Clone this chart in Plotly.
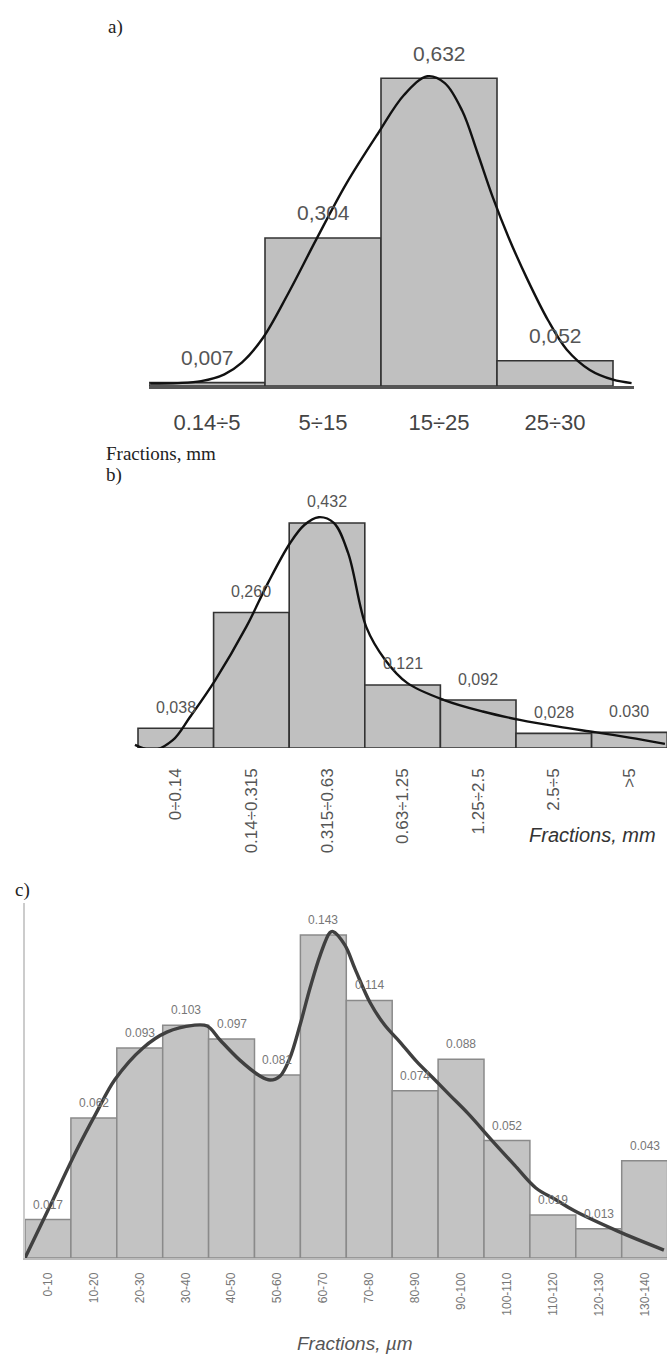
import plotly.graph_objects as go

W, H = 667, 1361

# ---------------- data ----------------
cats_a = ["0.14÷5", "5÷15", "15÷25", "25÷30"]
vals_a = [0.007, 0.304, 0.632, 0.052]
labels_a = ["0,007", "0,304", "0,632", "0,052"]
curve_a_x = [-0.49, -0.25, -0.05, 0.15, 0.30, 0.48, 0.70, 0.94, 1.20, 1.47, 1.70, 1.90,
             2.05, 2.20, 2.33, 2.46, 2.60, 2.76, 2.94, 3.10, 3.30, 3.50, 3.66]
curve_a_y = [0.005, 0.006, 0.010, 0.024, 0.048, 0.098, 0.190, 0.300, 0.415, 0.517, 0.598, 0.636,
             0.622, 0.565, 0.480, 0.390, 0.305, 0.220, 0.135, 0.075, 0.033, 0.013, 0.006]

cats_b = ["0÷0.14", "0.14÷0.315", "0.315÷0.63", "0.63÷1.25", "1.25÷2.5", "2.5÷5", ">5"]
vals_b = [0.038, 0.260, 0.432, 0.121, 0.092, 0.028, 0.030]
labels_b = ["0,038", "0,260", "0,432", "0,121", "0,092", "0,028", "0.030"]
curve_b_x = [-0.54, -0.30, -0.04, 0.19, 0.52, 0.93, 1.22, 1.51, 1.70, 1.89, 2.09,
             2.28, 2.52, 2.77, 3.06, 3.55, 4.06, 4.55, 5.06, 5.56, 6.00, 6.47]
curve_b_y = [0.006, -0.004, 0.015, 0.06, 0.13, 0.232, 0.317, 0.393, 0.428, 0.443, 0.432,
             0.374, 0.232, 0.169, 0.125, 0.092, 0.070, 0.054, 0.041, 0.030, 0.020, 0.008]

cats_c = ["0-10", "10-20", "20-30", "30-40", "40-50", "50-60", "60-70", "70-80",
          "80-90", "90-100", "100-110", "110-120", "120-130", "130-140"]
vals_c = [0.017, 0.062, 0.093, 0.103, 0.097, 0.081, 0.143, 0.114, 0.074, 0.088,
          0.052, 0.019, 0.013, 0.043]
labels_c = ["0.017", "0.062", "0.093", "0.103", "0.097", "0.081", "0.143", "0.114",
            "0.074", "0.088", "0.052", "0.019", "0.013", "0.043"]
curve_c_x = [-0.5, 0.045, 0.633, 1.047, 1.46, 2.07, 2.59, 3.16, 3.47, 3.75, 4.18, 4.62,
             4.84, 5.06, 5.27, 5.49, 5.71, 5.93, 6.14, 6.21, 6.47, 6.69, 7.02, 7.34,
             7.67, 8.04, 8.39, 8.76, 9.15, 9.72, 10.17, 10.63, 11.05, 11.46, 12.40, 13.42]
curve_c_y = [0.0, 0.023, 0.048, 0.064, 0.079, 0.093, 0.100, 0.103, 0.1027, 0.0965, 0.0876,
             0.0806, 0.0788, 0.0806, 0.0885, 0.103, 0.1195, 0.134, 0.1440, 0.1445, 0.1385,
             0.128, 0.113, 0.103, 0.0956, 0.0868, 0.0797, 0.072, 0.064, 0.051, 0.041,
             0.031, 0.026, 0.021, 0.012, 0.0035]

# ---------------- helpers ----------------
SANS = "Liberation Sans, Arial, sans-serif"
SERIF = "Liberation Serif, Times New Roman, serif"


def xd(p0, p1):
    return [p0 / W, p1 / W]


def yd(top, bottom):
    return [1 - bottom / H, 1 - top / H]


fig = go.Figure()

# panel a
pos_a = list(range(len(cats_a)))
fig.add_trace(go.Bar(x=pos_a, y=vals_a, width=1, marker=dict(color="#c0c0c0",
              line=dict(color="#333333", width=1.6)), xaxis="x", yaxis="y",
              showlegend=False, hoverinfo="skip"))
fig.add_trace(go.Scatter(x=curve_a_x, y=curve_a_y, mode="lines",
              line=dict(color="#111111", width=2.4, shape="spline", smoothing=1.0),
              xaxis="x", yaxis="y", showlegend=False, hoverinfo="skip"))

# panel b
pos_b = list(range(len(cats_b)))
fig.add_trace(go.Bar(x=pos_b, y=vals_b, width=1, marker=dict(color="#c0c0c0",
              line=dict(color="#333333", width=1.6)), xaxis="x2", yaxis="y2",
              showlegend=False, hoverinfo="skip"))
fig.add_trace(go.Scatter(x=curve_b_x, y=curve_b_y, mode="lines",
              line=dict(color="#111111", width=2.4, shape="spline", smoothing=1.0),
              xaxis="x2", yaxis="y2", showlegend=False, hoverinfo="skip"))

# panel c
pos_c = list(range(len(cats_c)))
fig.add_trace(go.Bar(x=pos_c, y=vals_c, width=1, marker=dict(color="#c3c3c3",
              line=dict(color="#8a8a8a", width=1.5)), xaxis="x3", yaxis="y3",
              showlegend=False, hoverinfo="skip"))
fig.add_trace(go.Scatter(x=curve_c_x, y=curve_c_y, mode="lines",
              line=dict(color="#404040", width=3.4, shape="spline", smoothing=1.0),
              xaxis="x3", yaxis="y3", showlegend=False, hoverinfo="skip"))

# scales (px per unit)
ax_a, ay_a = 116.0, 487.0
ax_b, ay_b = 75.6, 521.0
ax_c, ay_c = 45.9, 2259.0

layout = dict(
    width=W, height=H, margin=dict(l=0, r=0, t=0, b=0),
    paper_bgcolor="white", plot_bgcolor="white",
    xaxis=dict(domain=xd(149, 634), range=[-0.5, -0.5 + (634 - 149) / ax_a],
               tickvals=pos_a, ticktext=cats_a, showgrid=False, zeroline=False,
               showline=True, linecolor="#555555", linewidth=2.5,
               ticks="", ticklabelstandoff=15,
               tickfont=dict(family=SANS, size=22, color="#444444"), anchor="y"),
    yaxis=dict(domain=yd(30, 386), range=[0, (386 - 30) / ay_a], visible=False, anchor="x"),
    xaxis2=dict(domain=xd(130, 667), range=[(130 - 138) / ax_b - 0.5, (667 - 138) / ax_b - 0.5],
                tickvals=pos_b, ticktext=cats_b, showgrid=False, zeroline=False,
                showline=False, ticks="", tickangle=-90, ticklabelstandoff=16,
                tickfont=dict(family=SANS, size=17, color="#555555"), anchor="y2"),
    yaxis2=dict(domain=yd(480, 748), range=[0, (748 - 480) / ay_b], visible=False, anchor="x2"),
    xaxis3=dict(domain=xd(25, 667), range=[-0.5, -0.5 + (667 - 25) / ax_c],
                tickvals=pos_c, ticktext=cats_c, showgrid=False, zeroline=False,
                showline=True, linecolor="#bbbbbb", linewidth=1.5,
                ticks="", tickangle=-90, ticklabelstandoff=8,
                tickfont=dict(family=SANS, size=12, color="#777777"), anchor="y3"),
    yaxis3=dict(domain=yd(903, 1258), range=[0, (1258 - 903) / ay_c],
                showgrid=False, zeroline=False, showticklabels=False, ticks="",
                showline=True, linecolor="#cccccc", linewidth=1.5, anchor="x3"),
)
fig.update_layout(**layout)

ann = []
for p, v, t in zip(pos_a, vals_a, labels_a):
    ann.append(dict(x=p, y=v, xref="x", yref="y", text=t, showarrow=False,
                    yanchor="middle", yshift=25,
                    font=dict(family=SANS, size=21, color="#555555")))
for p, v, t in zip(pos_b, vals_b, labels_b):
    ann.append(dict(x=p, y=v, xref="x2", yref="y2", text=t, showarrow=False,
                    yanchor="middle", yshift=21,
                    font=dict(family=SANS, size=16, color="#555555")))
for p, v, t in zip(pos_c, vals_c, labels_c):
    ann.append(dict(x=p, y=v, xref="x3", yref="y3", text=t, showarrow=False,
                    yanchor="middle", yshift=15,
                    font=dict(family=SANS, size=12, color="#777777")))


def txt(text, x, y, xanchor, font):
    return dict(x=x / W, y=1 - y / H, xref="paper", yref="paper", text=text,
                showarrow=False, xanchor=xanchor, yanchor="middle", font=font)


serif_font = dict(family=SERIF, size=19, color="#222222")
ann += [
    txt("a)", 106, 27, "left", serif_font),
    txt("Fractions, mm", 104, 454, "left", serif_font),
    txt("b)", 104, 475, "left", serif_font),
    txt("c)", 13, 890, "left", serif_font),
    txt("Fractions, mm", 658, 835, "right",
        dict(family=SANS, size=20, color="#333333", style="italic")),
    txt("Fractions, µm", 354, 1343, "center",
        dict(family=SANS, size=19, color="#555555", style="italic")),
]
fig.update_layout(annotations=ann)

fig.write_html("out.html", config={"displayModeBar": False},
               post_script="document.body.style.margin='0';document.body.style.overflow='hidden';")
